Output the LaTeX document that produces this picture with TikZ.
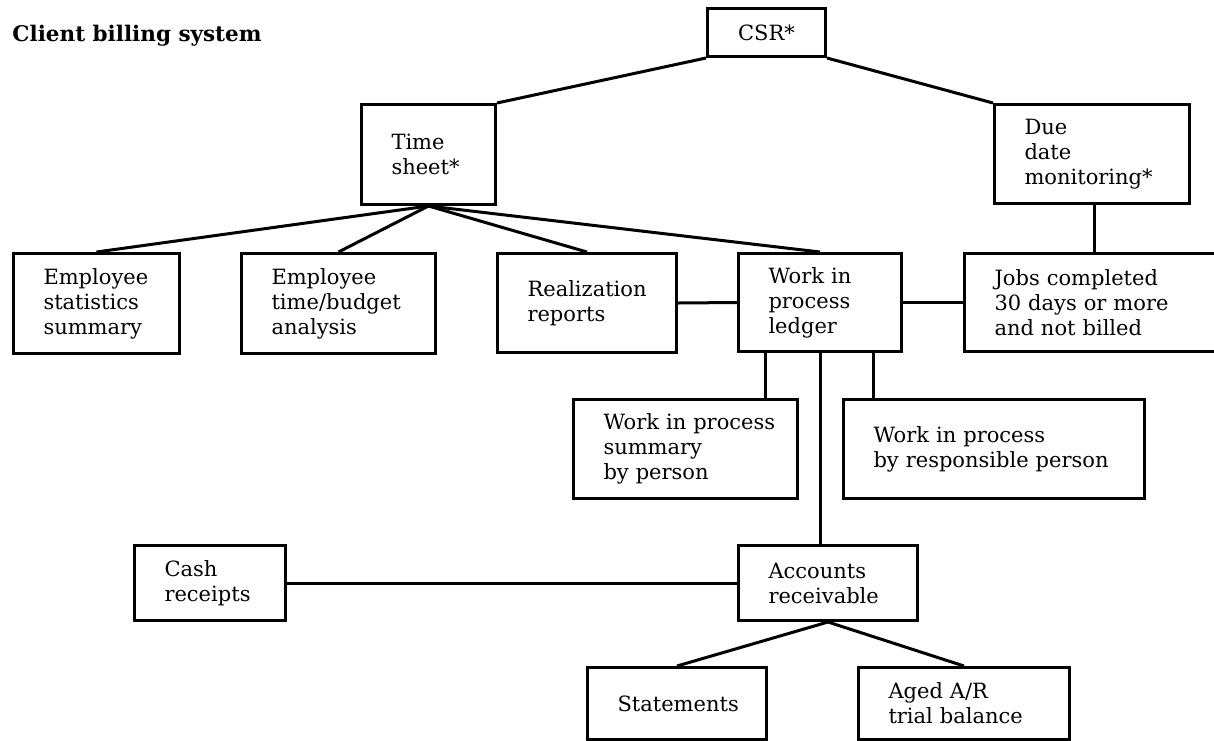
\documentclass[tikz,border=0pt]{standalone}
\usepackage{fontspec}
\setmainfont{DejaVu Serif}
\hyphenpenalty=10000
\exhyphenpenalty=10000

\begin{document}
\begin{tikzpicture}[x=1pt, y=-1pt, line width=3pt,
    box/.style={draw, rectangle, anchor=north west, align=left,
        inner xsep=30pt, inner ysep=0pt,
        font=\fontsize{21}{25}\selectfont}]
    % Page frame
    \useasboundingbox (0,0) rectangle (1214,740);

    % Title
    \node[anchor=base west, inner sep=0pt,
        font=\fontsize{21.5}{26}\selectfont\bfseries] (title) at (11,41)
        {Client billing system};

    % Top level
    \node[box, align=center, text width=58pt, minimum height=48pt] (csr) at (706,7) {CSR*};
    \node[box, text width=74pt, minimum height=100pt] (time) at (360,103) {Time\\sheet*};
    \node[box, text width=135pt, minimum height=99pt] (due) at (993,103) {Due\\date\\monitoring*};

    % Second row
    \node[box, text width=106pt, minimum height=100pt] (empstat) at (12,252) {Employee\\statistics\\summary};
    \node[box, text width=134pt, minimum height=100pt] (emptime) at (240,252) {Employee\\time/budget\\analysis};
    \node[box, text width=119pt, minimum height=99pt] (real) at (496,252) {Realization\\reports};
    \node[box, text width=103pt, minimum height=98pt] (wipl) at (737,252) {Work~in\\process\\ledger};
    \node[box, text width=210pt, minimum height=98pt] (jobs) at (963,252) {Jobs completed\\30 days or more\\and not billed};

    % Work in process reports
    \node[box, text width=164pt, minimum height=99pt] (wipsum) at (572,398) {Work~in~process\\summary\\by person};
    \node[box, text width=241pt, minimum height=99pt] (wipresp) at (842,398) {Work in process\\by~responsible~person};

    % Receivables
    \node[box, text width=91pt, minimum height=75pt] (cash) at (133,544) {Cash\\receipts};
    \node[box, text width=119pt, minimum height=75pt] (ar) at (737,544) {Accounts\\receivable};
    \node[box, text width=119pt, minimum height=72pt] (stmt) at (586,666) {Statements};
    \node[box, text width=151pt, minimum height=72pt] (aged) at (857,666) {Aged A/R\\trial balance};

    % Connectors
    \draw (csr.south west) -- (time.north east);
    \draw (csr.south east) -- (due.north west);
    \draw (time.south) -- (empstat.north);
    \draw (time.south) -- (emptime.north);
    \draw (time.south) -- (real.north);
    \draw (time.south) -- (wipl.north);
    \draw ([xshift=2.5pt]due.south) -- ([xshift=2.5pt]due.south |- jobs.north);
    \draw (real.east) -- (wipl.west);
    \draw (wipl.east) -- (jobs.west);
    \draw ([xshift=28pt]wipl.south west) -- ([xshift=28pt]wipl.south west |- wipsum.north);
    \draw ([xshift=-30pt]wipl.south east) -- ([xshift=-30pt]wipl.south east |- wipresp.north);
    \draw (wipl.south) -- (wipl.south |- ar.north);
    \draw (cash.east) -- (ar.west);
    \draw (ar.south) -- (stmt.north);
    \draw (ar.south) -- (aged.north);
\end{tikzpicture}
\end{document}
